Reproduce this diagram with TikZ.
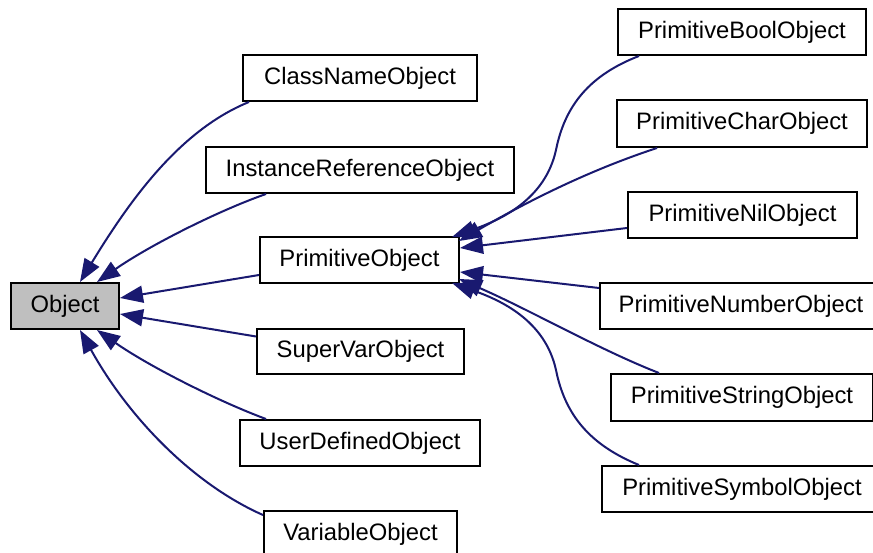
\documentclass[tikz,border=0pt]{standalone}
\usepackage{fontspec}
\setmainfont{Liberation Sans}
\usetikzlibrary{arrows.meta}
\definecolor{edgeblue}{RGB}{25,25,112}
\definecolor{objgray}{RGB}{191,191,191}
\begin{document}
\begin{tikzpicture}[x=1pt,y=-1pt,
  box/.style={draw=black, line width=2pt, fill=white, rectangle, inner sep=0pt,
    minimum height=46pt, font=\fontsize{23.8}{28}\selectfont},
  edge/.style={draw=edgeblue, line width=2pt, -{Triangle[length=23pt,width=17pt]}}]
\useasboundingbox (0,0) rectangle (873,553);
\clip (0,0) rectangle (873,553);
\fill[white] (0,0) rectangle (873,553);
% nodes
\node[box, fill=objgray, minimum width=108pt] (obj) at (65,306) {Object};
\node[box, minimum width=234pt] (cn) at (360,78) {ClassNameObject};
\node[box, minimum width=308pt] (ir) at (360,170) {InstanceReferenceObject};
\node[box, minimum width=199pt] (po) at (359.5,260) {PrimitiveObject};
\node[box, minimum width=207pt, minimum height=45pt] (sv) at (360.5,351.5) {SuperVarObject};
\node[box, minimum width=240pt] (ud) at (360,443) {UserDefinedObject};
\node[box, minimum width=193pt] (var) at (360.5,534) {VariableObject};
\node[box, minimum width=248pt] (bool) at (742,32) {PrimitiveBoolObject};
\node[box, minimum width=250pt, minimum height=47pt] (char) at (742,123.5) {PrimitiveCharObject};
\node[box, minimum width=229pt] (nil) at (742.5,215) {PrimitiveNilObject};
\node[box, minimum width=282pt] (num) at (741,306) {PrimitiveNumberObject};
\node[box, minimum width=262pt, minimum height=47pt] (str) at (742,397.5) {PrimitiveStringObject};
\node[box, minimum width=280pt] (sym) at (742,489) {PrimitiveSymbolObject};
% left edges
\draw[edge] ([xshift=7pt]cn.south west) .. controls (180,130) and (130,200) .. ([xshift=15pt]obj.north);
\draw[edge] ([xshift=61pt]ir.south west) .. controls (220,210) and (150,245) .. ([xshift=32pt]obj.north);
\draw[edge] ([yshift=-15pt]po.west) -- ([yshift=8pt]obj.east);
\draw[edge] ([yshift=15pt]sv.west) -- ([yshift=-8pt]obj.east);
\draw[edge] ([xshift=27pt]ud.north west) .. controls (220,402) and (150,367) .. ([xshift=32pt]obj.south);
\draw[edge] ([yshift=-5pt]var.north west) .. controls (195,485) and (130,420) .. ([xshift=15pt]obj.south);
% right edges
\draw[edge] ([xshift=22pt]bool.south west) .. controls (590,75) and (565,105) .. (556,150)
  .. controls (545,200) and (500,220) .. ([xshift=-8pt,yshift=23pt]po.east);
\draw[edge] ([xshift=41pt]char.south west) .. controls (590,170) and (530,200) .. ([xshift=-1pt,yshift=19pt]po.east);
\draw[edge] ([yshift=-13pt]nil.west) -- ([yshift=12pt]po.east);
\draw[edge] ([yshift=18pt]num.west) -- ([yshift=-12pt]po.east);
\draw[edge] ([xshift=49pt]str.north west) .. controls (600,350) and (530,310) .. ([xshift=-1pt,yshift=-19pt]po.east);
\draw[edge] ([xshift=38pt]sym.north west) .. controls (590,445) and (565,415) .. (556,370)
  .. controls (545,320) and (500,300) .. ([xshift=-8pt,yshift=-23pt]po.east);
\end{tikzpicture}
\end{document}
